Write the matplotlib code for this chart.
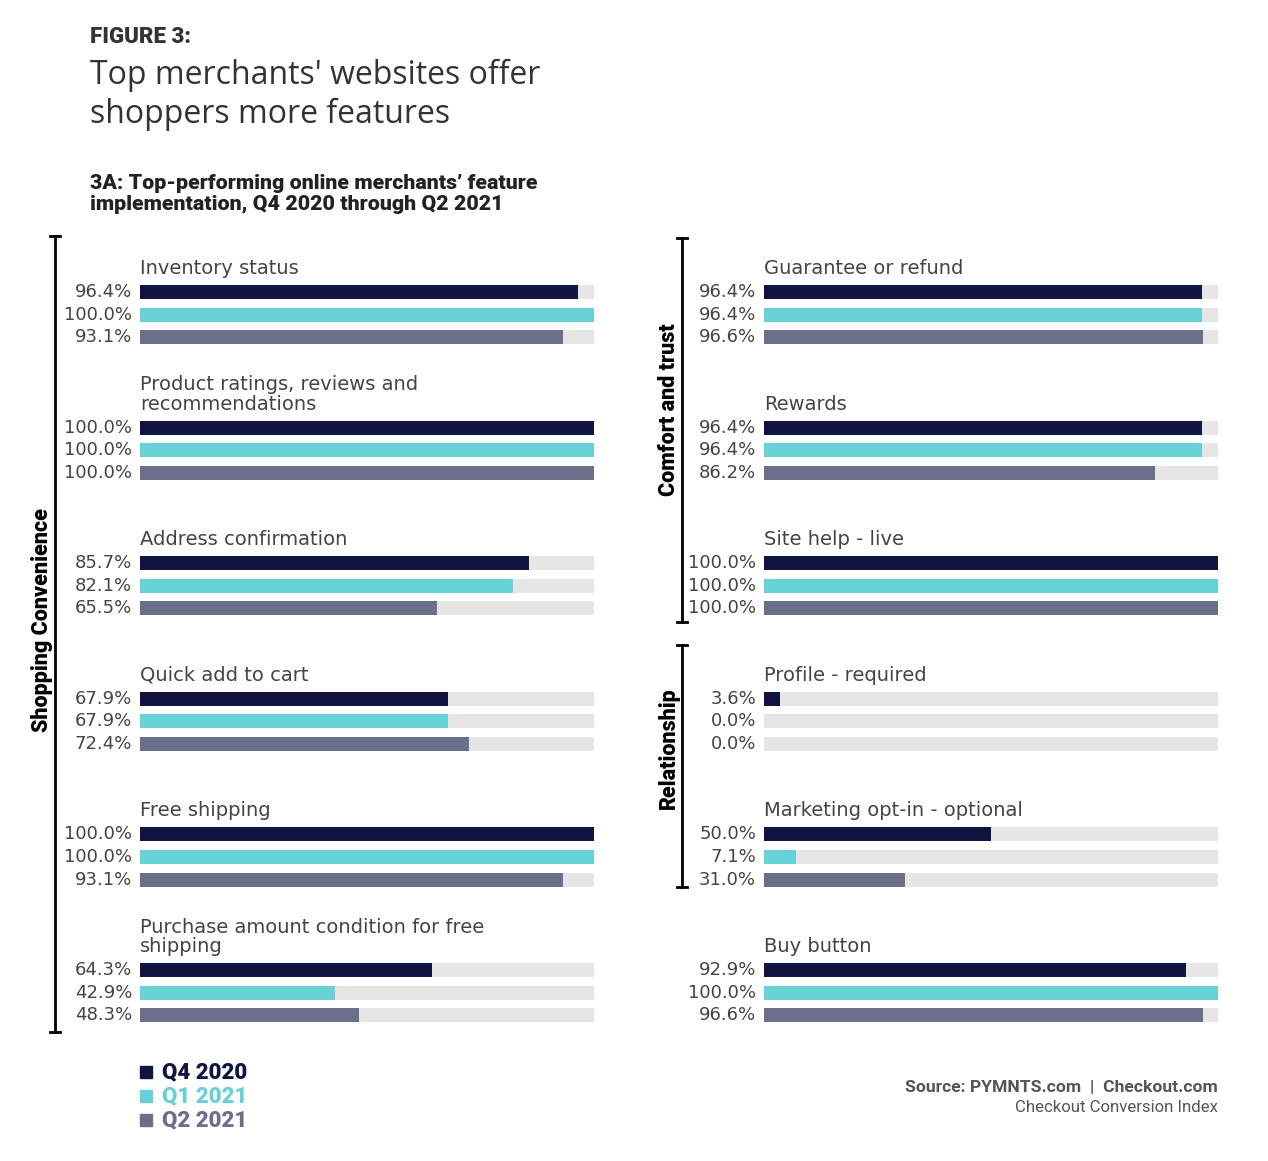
import matplotlib.pyplot as plt
from matplotlib.patches import Rectangle

# data
quarters = ['Q4 2020', 'Q1 2021', 'Q2 2021']
colors = ['#0f1540', '#68d1d8', '#6b6f8a']
track = '#e6e6e6'

left_features = ['Inventory status',
                 'Product ratings, reviews and\nrecommendations',
                 'Address confirmation',
                 'Quick add to cart',
                 'Free shipping',
                 'Purchase amount condition for free\nshipping']
left_q4 = [96.4, 100.0, 85.7, 67.9, 100.0, 64.3]
left_q1 = [100.0, 100.0, 82.1, 67.9, 100.0, 42.9]
left_q2 = [93.1, 100.0, 65.5, 72.4, 93.1, 48.3]

right_features = ['Guarantee or refund',
                  'Rewards',
                  'Site help - live',
                  'Profile - required',
                  'Marketing opt-in - optional',
                  'Buy button']
right_q4 = [96.4, 96.4, 100.0, 3.6, 50.0, 92.9]
right_q1 = [96.4, 96.4, 100.0, 0.0, 7.1, 100.0]
right_q2 = [96.6, 86.2, 100.0, 0.0, 31.0, 96.6]

W, H = 1268, 1161
fig = plt.figure(figsize=(W / 100, H / 100), dpi=100)
plt.rcParams['font.family'] = ['DejaVu Sans']
BOLD = ['Roboto', 'DejaVu Sans']


def px_axes(x0, y0, x1, y1):
    # pixel box (top-left origin) -> figure fraction
    return [x0 / W, 1 - y1 / H, (x1 - x0) / W, (y1 - y0) / H]


def draw_column(ax, features, q4, q1, q2):
    series = [q4, q1, q2]
    for g, feat in enumerate(features):
        for i in range(3):
            y = g * 6 + i
            ax.barh(y, 100, height=0.62, color=track, zorder=1)
            ax.barh(y, series[i][g], height=0.62, color=colors[i], zorder=2)
            ax.annotate(f'{series[i][g]:.1f}%', xy=(0, y), xytext=(-8, 0),
                        textcoords='offset pixels', ha='right', va='center',
                        fontsize=13, color='#444444')
        ax.text(0, g * 6 - 0.62, feat, ha='left', va='bottom', fontsize=14,
                color='#444444', linespacing=1.02)
    ax.set_xlim(0, 100)
    ax.set_ylim(33.5, -3)
    ax.axis('off')


# 22.6 px per unit, y=0 at pixel 292
top_px = 292 - 3 * 22.6
bot_px = 292 + 33.5 * 22.6
axl = fig.add_axes(px_axes(140, top_px, 594, bot_px))
draw_column(axl, left_features, left_q4, left_q1, left_q2)
axr = fig.add_axes(px_axes(764, top_px, 1218, bot_px))
draw_column(axr, right_features, right_q4, right_q1, right_q2)

# overlay for titles, brackets, legend
ov = fig.add_axes([0, 0, 1, 1], zorder=-1)
ov.set_xlim(0, W)
ov.set_ylim(H, 0)
ov.axis('off')

ov.text(90, 37, 'FIGURE 3:', fontsize=16, fontweight='heavy', color='#333333',
        family=BOLD, va='center')
ov.text(90, 95, "Top merchants' websites offer\nshoppers more features", fontsize=23,
        family=['Open Sans', 'DejaVu Sans'], color='#333333', va='center', linespacing=1.22)
ov.text(90, 194, "3A: Top-performing online merchants’ feature\nimplementation, Q4 2020 through Q2 2021",
        fontsize=15.4, fontweight='heavy', color='#222222', va='center', linespacing=1.12,
        family=BOLD)


def bracket(x, y0, y1, label, ly):
    ov.plot([x, x], [y0, y1], color='black', lw=2)
    ov.plot([x - 5, x + 5], [y0, y0], color='black', lw=2)
    ov.plot([x - 5, x + 5], [y1, y1], color='black', lw=2)
    ov.text(x - 13, ly, label, rotation=90, ha='center', va='center', fontsize=15.5,
            fontweight='heavy', color='black', family=BOLD)


bracket(55, 236, 1032, 'Shopping Convenience', 620)
bracket(682, 238, 622, 'Comfort and trust', 410)
bracket(682, 645, 887, 'Relationship', 748)

# legend
for i, q in enumerate(quarters):
    y = 1072 + i * 24
    ov.add_patch(Rectangle((140, y - 6.5), 12, 12, color=colors[i]))
    ov.text(162, y, q, fontsize=16, fontweight='heavy', color=colors[i], va='center',
            family=BOLD)

ov.text(1218, 1088, 'Source: PYMNTS.com  |  Checkout.com', ha='right', va='center',
        fontsize=12.6, fontweight='bold', color='#555555', family=BOLD)
ov.text(1218, 1108, 'Checkout Conversion Index', ha='right', va='center',
        fontsize=12.1, color='#555555', family=BOLD)

fig.savefig('out.png', dpi=100, facecolor='white')
